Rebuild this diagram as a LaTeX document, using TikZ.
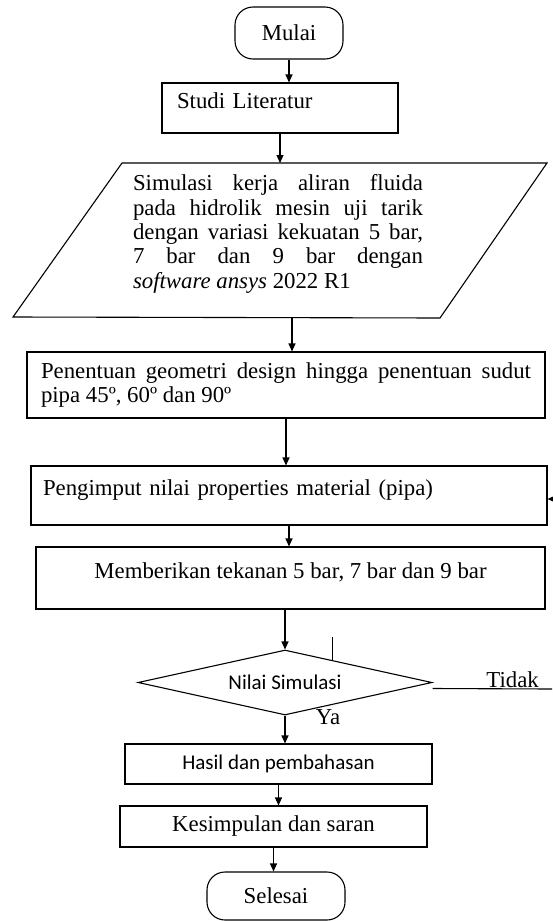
\documentclass[tikz,border=0pt]{standalone}
\usepackage{fontspec}
\setmainfont{Liberation Serif}
\newfontfamily\calibri{Carlito}
\newcommand\bodysize{\fontsize{22.8}{24.4}\selectfont}
\usetikzlibrary{arrows.meta,shapes.geometric,calc}

\tikzset{
  box/.style={draw,rectangle,line width=1.1pt,inner sep=0pt},
  term/.style={box,rounded corners=18pt},
  level/.style={text height=14pt,text depth=14pt},
  decision/.style={draw,diamond,line width=1.1pt,inner sep=0pt,aspect=4.5,
    font=\calibri\fontsize{21}{24}\selectfont},
  arr/.style={-{Triangle[length=8pt,width=7pt]},line width=1.1pt}
}

\begin{document}
\begin{tikzpicture}[x=1pt,y=-1pt,every node/.style={font=\bodysize}]
  \useasboundingbox (0,0) rectangle (552,921);
  \node [term,minimum width=108pt,minimum height=52pt] (mulai) at (289,33) {Mulai};
  \node [box,level,minimum width=236pt,minimum height=50pt,text width=206pt,align=left]
    (studi) at (280,108) {Studi Literatur};
  \coordinate (simnw) at (122,163);
  \coordinate (simne) at (547,163);
  \coordinate (simse) at (440,318);
  \coordinate (simsw) at (13,317);
  \coordinate (simout) at (292,318);
  \draw [line width=1.1pt] (simnw) -- (simne) -- (simse) -- (simsw) -- cycle;
  \node [text width=290pt,align=justify,inner sep=0pt] (sim) at (278,234)
    {Simulasi kerja aliran fluida\linebreak pada hidrolik mesin uji tarik\linebreak
     dengan variasi kekuatan 5 bar,\linebreak 7 bar dan 9 bar dengan\linebreak
     \textit{software ansys} 2022 R1};
  \node [box,minimum width=518pt,minimum height=66pt,text width=490pt,align=justify]
    (penentuan) at (286,385)
    {Penentuan geometri design hingga penentuan sudut pipa 45º, 60º dan 90º};
  \node [box,level,minimum width=516pt,minimum height=59pt,text width=492pt,align=left]
    (pengimput) at (289,495.5) {Pengimput nilai properties material (pipa)};
  \node [box,level,minimum width=509pt,minimum height=62pt] (tekanan) at (290.5,578)
    {Memberikan tekanan 5 bar, 7 bar dan 9 bar};
  \node [decision,minimum width=294pt,minimum height=65pt] (nilai) at (285,682.5)
    {Nilai Simulasi};
  \node [box,minimum width=307pt,minimum height=40pt,font=\calibri\fontsize{21}{24}\selectfont]
    (hasil) at (278.5,764) {Hasil dan pembahasan};
  \node [box,minimum width=307pt,minimum height=41pt] (kesimpulan) at (273.5,826.5)
    {Kesimpulan dan saran};
  \node [term,minimum width=138pt,minimum height=48pt] (selesai) at (276,896) {Selesai};
  \node (ya) at (328,717) {Ya};

  \draw [arr] (mulai.south) -- (mulai.south |- studi.north);
  \draw [arr] (studi.south) -- (studi.south |- simnw);
  \draw [arr] (simout) -- (simout |- penentuan.north);
  \draw [arr] (penentuan.south) -- (penentuan.south |- pengimput.north);
  \draw [arr] (pengimput.south) -- (pengimput.south |- tekanan.north);
  \draw [arr] (tekanan.south -| nilai.north) -- (nilai.north);
  \draw [arr] (nilai.south) -- (nilai.south |- hasil.north);
  \draw [arr] (hasil.south) -- (hasil.south |- kesimpulan.north);
  \draw [arr] (kesimpulan.south) -- (kesimpulan.south |- selesai.north);

  \coordinate (stubend) at ($(nilai.north)!0.32!(nilai.east)$);
  \draw [line width=1.1pt] (stubend) -- ++(0,-23);
  \coordinate (tidakend) at (552,689);
  \draw [line width=1.1pt] ([yshift=-6pt]nilai.east) -- (tidakend)
    node [pos=0.67,above,inner sep=1pt] (tidak) {Tidak};
  \coordinate (loopin) at (560,499);
  \draw [arr] (loopin) -- (loopin -| pengimput.east);
\end{tikzpicture}
\end{document}
